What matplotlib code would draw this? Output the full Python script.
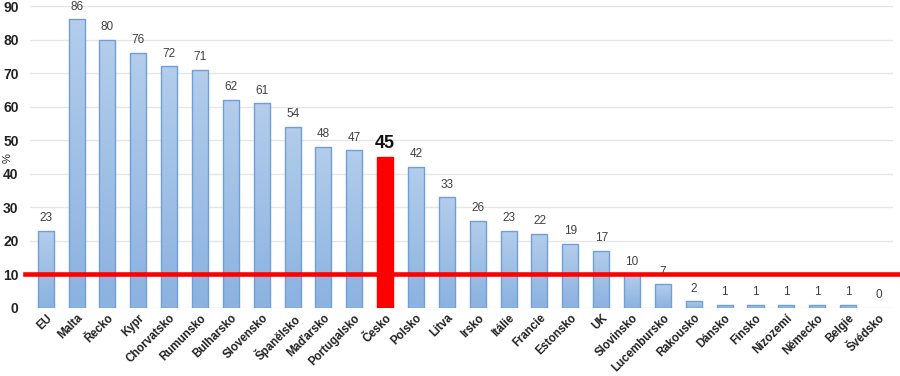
import matplotlib.pyplot as plt
import numpy as np

plt.rcParams['font.family'] = ['Liberation Sans', 'DejaVu Sans']

countries = ['EU', 'Malta', 'Řecko', 'Kypr', 'Chorvatsko', 'Rumunsko', 'Bulharsko',
             'Slovensko', 'Španělsko', 'Maďarsko', 'Portugalsko', 'Česko', 'Polsko',
             'Litva', 'Irsko', 'Itálie', 'Francie', 'Estonsko', 'UK', 'Slovinsko',
             'Lucembursko', 'Rakousko', 'Dánsko', 'Finsko', 'Nizozemí', 'Německo',
             'Belgie', 'Švédsko']
values = [23, 86, 80, 76, 72, 71, 62, 61, 54, 48, 47, 45, 42, 33, 26, 23, 22, 19,
          17, 10, 7, 2, 1, 1, 1, 1, 1, 0]
highlight = 'Česko'
threshold = 10

fig = plt.figure(figsize=(9, 3.76), dpi=100)
ax = fig.add_axes([0.033, 0.181, 0.959, 0.803])

x = np.arange(len(countries))
w = 0.52
grad = np.linspace(0, 1, 100).reshape(-1, 1)
blue = plt.matplotlib.colors.LinearSegmentedColormap.from_list('b', ['#8cb2e0', '#b3cdeb'])

for i, (c, v) in enumerate(zip(countries, values)):
    if c == highlight:
        ax.bar(i, v, w, color='#ff0000', edgecolor='#ff0000', zorder=2)
        ax.text(i, v + 1.5, str(v), ha='center', va='bottom', fontsize=13,
                fontweight='bold', color='#111111')
        continue
    if v > 0:
        b = ax.bar(i, v, w, color='none', edgecolor='#6f9fd8', linewidth=1, zorder=3)[0]
        im = ax.imshow(grad, cmap=blue, aspect='auto', origin='lower',
                       extent=[i - w / 2, i + w / 2, 0, v], zorder=2)
        im.set_clip_path(b)
    ax.text(i, v + 2, str(v), ha='center', va='bottom', fontsize=8.5, color='#404040')

ax.axhline(threshold, xmin=-0.006, xmax=1.01, color='#ff0000', linewidth=3.3,
           clip_on=False, zorder=4)

ax.set_xlim(-0.52, 27.45)
ax.set_ylim(0, 90)
ax.set_yticks(range(0, 91, 10))
ax.grid(axis='y', color='#e6e6e6', linewidth=1, zorder=0)
ax.set_axisbelow(True)
for s in ax.spines.values():
    s.set_visible(False)
ax.tick_params(axis='y', length=0, pad=8)
ax.tick_params(axis='x', length=0, pad=3)
ax.set_xticks(x)
ax.set_xticklabels(countries, rotation=45, ha='right', rotation_mode='anchor',
                   fontsize=8.3, fontweight='bold', color='#222222')
for t in ax.get_yticklabels():
    t.set_fontweight('bold')
    t.set_fontsize(10)
    t.set_color('#222222')
fig.text(0.009, 0.58, '%', rotation=90, fontsize=8, color='#222222',
         ha='center', va='center')

fig.savefig('out.png', dpi=100)
